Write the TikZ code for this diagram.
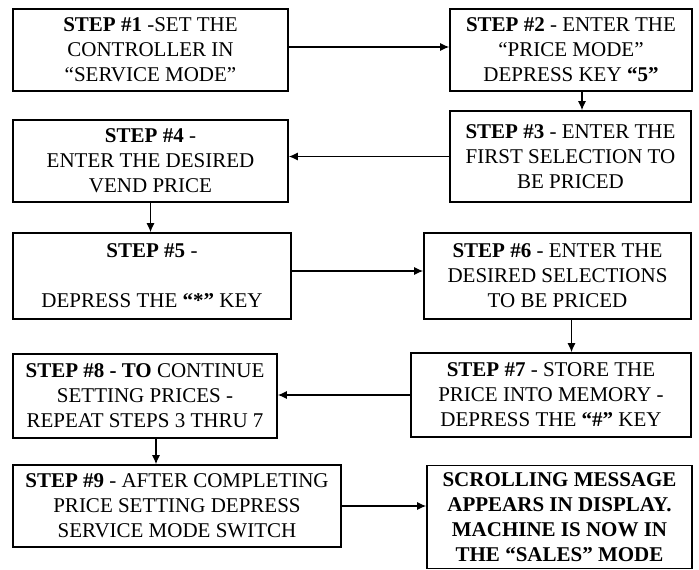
\documentclass[tikz,border=0pt]{standalone}
\usepackage{fontspec}
\setmainfont{Liberation Serif}
\newfontfamily\boxfont{Liberation Serif}
\usepackage{tikz}
\usetikzlibrary{arrows.meta}

\begin{document}
\begin{tikzpicture}[x=1pt,y=-1pt,
        stepbox/.style={draw, line width=1.6pt, align=center, inner sep=0pt,
            font=\boxfont\fontsize{21}{25}\selectfont},
        arr/.style={line width=1.2pt, -{Latex[length=9pt,width=8pt]}}]
        % Fix the page size
        \useasboundingbox (0,0) rectangle (699,570);

        % Draw the step boxes
        \node[stepbox, minimum width=275pt, minimum height=82pt] (b1) at (150.5,50)
            {\textbf{STEP \#1} -SET THE\\ CONTROLLER IN\\ “SERVICE MODE”};
        \node[stepbox, minimum width=242pt, minimum height=82pt] (b2) at (571,50)
            {\textbf{STEP \#2} - ENTER THE\\ “PRICE MODE”\\ DEPRESS KEY \textbf{“5”}};
        \node[stepbox, minimum width=241pt, minimum height=91pt] (b3) at (570.5,156.5)
            {\textbf{STEP \#3} - ENTER THE\\ FIRST SELECTION TO\\ BE PRICED};
        \node[stepbox, minimum width=275pt, minimum height=82pt] (b4) at (150.5,161)
            {\textbf{STEP \#4} -\\ ENTER THE DESIRED\\ VEND PRICE};
        \node[stepbox, minimum width=278pt, minimum height=86pt] (b5) at (152,276)
            {\textbf{STEP \#5} -\\ \mbox{}\\ DEPRESS THE \textbf{“*”} KEY};
        \node[stepbox, minimum width=267pt, minimum height=86pt] (b6) at (557.5,276)
            {\textbf{STEP \#6} - ENTER THE\\ DESIRED SELECTIONS\\ TO BE PRICED};
        \node[stepbox, minimum width=280pt, minimum height=84pt] (b7) at (551,395)
            {\textbf{STEP \#7} - STORE THE\\ PRICE INTO MEMORY -\\ DEPRESS THE \textbf{“\#”} KEY};
        \node[stepbox, minimum width=264pt, minimum height=84pt] (b8) at (145,396)
            {\textbf{STEP \#8 - TO} CONTINUE\\ SETTING PRICES -\\ REPEAT STEPS 3 THRU 7};
        \node[stepbox, minimum width=328pt, minimum height=82pt] (b9) at (177,506)
            {\textbf{STEP \#9} - AFTER COMPLETING\\ PRICE SETTING DEPRESS\\ SERVICE MODE SWITCH};
        \node[stepbox, minimum width=265pt, minimum height=103pt, font=\boxfont\fontsize{21}{25}\selectfont\bfseries] (b10) at (559.5,517)
            {SCROLLING MESSAGE\\ APPEARS IN DISPLAY.\\ MACHINE IS NOW IN\\ THE “SALES” MODE};

        % Draw the arrows between the steps
        \draw[arr] ([yshift=3pt]b1.east) -- ([yshift=3pt]b2.west);
        \draw[arr] ([xshift=11pt]b2.south) -- ([xshift=11pt]b2.south |- b3.north);
        \draw[arr] (b3.west) -- (b3.west -| b4.east);
        \draw[arr] (b4.south) -- (b4.south |- b5.north);
        \draw[arr] ([yshift=5pt]b5.east) -- ([yshift=5pt]b6.west);
        \draw[arr] ([xshift=14pt]b6.south) -- ([xshift=14pt]b6.south |- b7.north);
        \draw[arr] (b7.west) -- (b7.west -| b8.east);
        \draw[arr] ([xshift=11pt]b8.south) -- ([xshift=11pt]b8.south |- b9.north);
        \draw[arr] (b9.east) -- (b9.east -| b10.west);
    \end{tikzpicture}
\end{document}
